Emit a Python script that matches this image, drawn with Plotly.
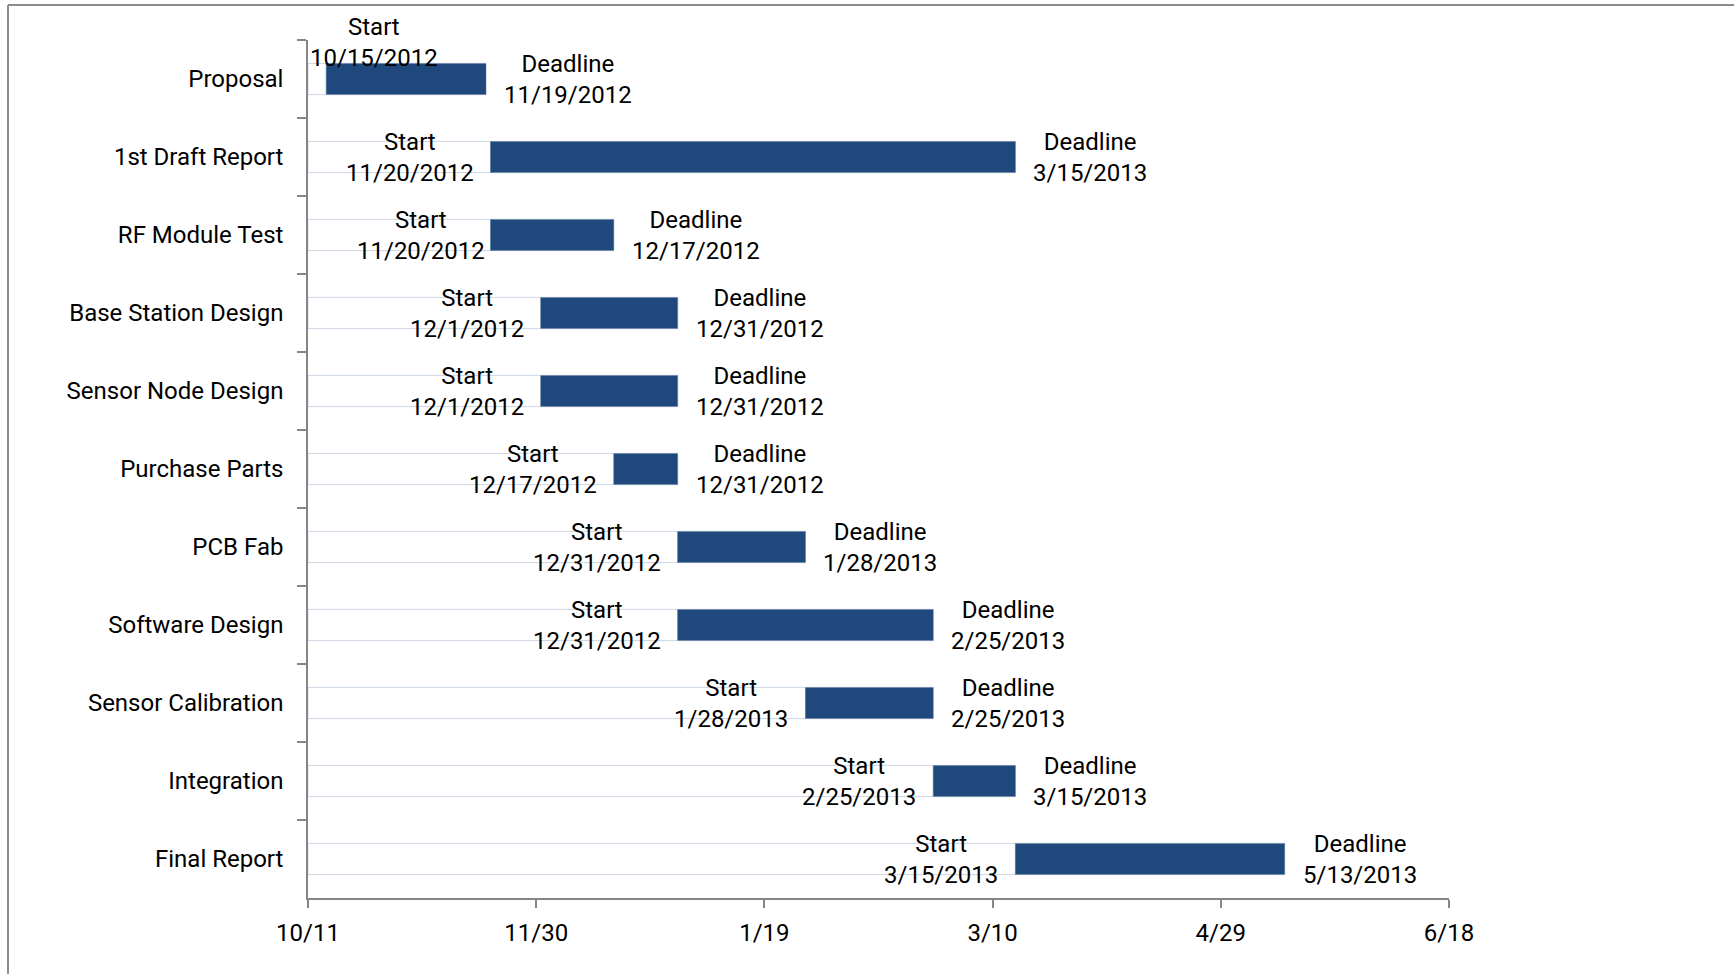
import pandas as pd
import plotly.graph_objects as go

tasks = ["Proposal", "1st Draft Report", "RF Module Test", "Base Station Design",
         "Sensor Node Design", "Purchase Parts", "PCB Fab", "Software Design",
         "Sensor Calibration", "Integration", "Final Report"]
starts = ["2012-10-15", "2012-11-20", "2012-11-20", "2012-12-01", "2012-12-01",
          "2012-12-17", "2012-12-31", "2012-12-31", "2013-01-28", "2013-02-25", "2013-03-15"]
deadlines = ["2012-11-19", "2013-03-15", "2012-12-17", "2012-12-31", "2012-12-31",
             "2012-12-31", "2013-01-28", "2013-02-25", "2013-02-25", "2013-03-15", "2013-05-13"]
x_min = "2012-10-11"
x_max = "2013-06-18"
tick_days = 50

W, H = 1734, 974
ML, MR, MT, MB = 308, 285, 40, 76
FONT = "Roboto, Calibri, Carlito, sans-serif"
FS = 24
BAR = "#1F497D"

s = pd.to_datetime(starts)
d = pd.to_datetime(deadlines)
xmin = pd.Timestamp(x_min)
dur_ms = [(b - a).total_seconds() * 1000 for a, b in zip(s, d)]
lead_ms = [(a - xmin).total_seconds() * 1000 for a in s]

def fmt(t):
    return f"{t.month}/{t.day}/{t.year}"

fig = go.Figure()
fig.add_trace(go.Bar(
    y=tasks, x=lead_ms, base=[x_min] * len(tasks), orientation="h", width=0.4,
    marker=dict(color="rgba(0,0,0,0)", line=dict(color="#CDD6E3", width=1)),
    hoverinfo="skip", showlegend=False))
fig.add_trace(go.Bar(
    y=tasks, x=dur_ms, base=starts, orientation="h", width=0.4,
    marker=dict(color=BAR, line=dict(color="#4F6F9A", width=0.5)),
    showlegend=False))

annots = []
for i, t in enumerate(tasks):
    if i == 0:
        annots.append(dict(x=x_min, y=t, xref="x", yref="y", xanchor="left", yanchor="middle",
                           xshift=0, yshift=37, text=f"Start<br>{fmt(s[i])}", showarrow=False,
                           align="center", font=dict(family=FONT, size=FS, color="black")))
    else:
        xs = -4 if t == "RF Module Test" else -15
        annots.append(dict(x=starts[i], y=t, xref="x", yref="y", xanchor="right", yanchor="middle",
                           xshift=xs, text=f"Start<br>{fmt(s[i])}", showarrow=False,
                           align="center", font=dict(family=FONT, size=FS, color="black")))
    annots.append(dict(x=deadlines[i], y=t, xref="x", yref="y", xanchor="left", yanchor="middle",
                       xshift=16, text=f"Deadline<br>{fmt(d[i])}", showarrow=False,
                       align="center", font=dict(family=FONT, size=FS, color="black")))

pw = W - ML - MR
ph = H - MT - MB
def px(xp):
    return (xp - ML) / pw
def py(yp):
    return 1 - (yp - MT) / ph

shapes = [
    dict(type="line", xref="paper", yref="paper", x0=px(8), x1=px(W + 5), y0=py(5), y1=py(5),
         line=dict(color="#8C8C8C", width=2)),
    dict(type="line", xref="paper", yref="paper", x0=px(8), x1=px(8), y0=py(5), y1=py(H + 5),
         line=dict(color="#8C8C8C", width=2)),
]

fig.update_layout(
    width=W, height=H, margin=dict(l=ML, r=MR, t=MT, b=MB),
    barmode="overlay", plot_bgcolor="white", paper_bgcolor="white",
    font=dict(family=FONT, size=FS, color="black"),
    annotations=annots, shapes=shapes,
    xaxis=dict(type="date", range=[x_min, x_max], tick0=x_min, dtick=tick_days * 86400000,
               tickformat="%-m/%-d", showgrid=False, zeroline=False,
               showline=True, linecolor="#868686", linewidth=1.5,
               ticks="outside", ticklen=8, tickcolor="#868686", tickwidth=1.5,
               ticklabelstandoff=4, tickfont=dict(family=FONT, size=FS)),
    yaxis=dict(categoryorder="array", categoryarray=tasks, autorange="reversed",
               showgrid=False, zeroline=False, showline=True, linecolor="#868686", linewidth=1.5,
               ticks="outside", ticklen=9, tickcolor="#868686", tickwidth=1.5,
               tickson="boundaries", ticklabelstandoff=18, tickfont=dict(family=FONT, size=FS)),
)

fig.write_html("out.html")
